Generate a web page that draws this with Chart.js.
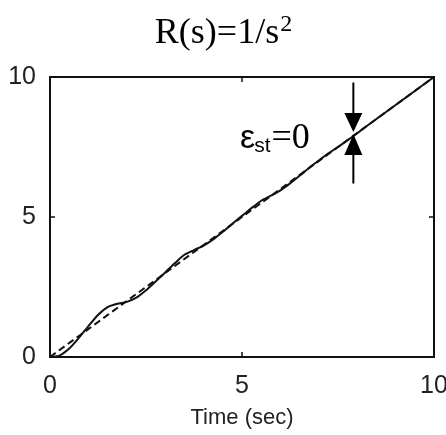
<!DOCTYPE html>
<html>
<head>
<meta charset="utf-8">
<script src="https://cdn.jsdelivr.net/npm/chart.js@4/dist/chart.umd.min.js"></script>
<style>
  html, body { margin: 0; padding: 0; background: #fff; }
  #wrap { width: 446px; height: 435px; }
</style>
</head>
<body>
<div id="wrap"><canvas id="chart"></canvas></div>
<script>
// ramp input r(t) = t (dashed)
const rampTime = [0, 10];
const rampValue = [0, 10];

// system output c(t) (solid)
const outTime = [0, 0.25, 0.5, 0.75, 1, 1.25, 1.5, 1.75, 2, 2.25, 2.5, 2.75, 3, 3.25, 3.5, 3.75,
  4, 4.25, 4.5, 4.75, 5, 5.25, 5.5, 5.75, 6, 6.25, 6.5, 6.75, 7, 7.25, 7.5, 7.75,
  8, 8.25, 8.5, 8.75, 9, 9.25, 9.5, 9.75, 10];
const outValue = [0, 0.05, 0.3, 0.68, 1.1, 1.5, 1.78, 1.9, 1.97, 2.12, 2.38, 2.7, 3.02, 3.35, 3.65, 3.82,
  3.98, 4.2, 4.47, 4.76, 5.04, 5.32, 5.58, 5.76, 5.95, 6.2, 6.47, 6.76, 7.02, 7.27, 7.5, 7.74,
  7.99, 8.25, 8.5, 8.75, 9.0, 9.25, 9.5, 9.75, 10];

const axisTicks = [0, 5, 10];

// steady-state error marker (data units)
const markerT = 7.9;
const markerTop = 9.8;
const markerMid = 8.0;
const markerBottom = 6.2;
const labelT = 4.95;
const labelY = 7.45;

const toXY = (xs, ys) => xs.map((x, i) => ({ x, y: ys[i] }));
const serif = '"Liberation Serif", "Times New Roman", serif';
const sans = '"Liberation Sans", Arial, sans-serif';

// title, box around the axes, inward ticks and the e_st arrows
const boxPlugin = {
  id: "box",
  afterDatasetsDraw(chart) {
    const { ctx, chartArea: a, scales: { x, y } } = chart;
    ctx.save();

    // title R(s)=1/s^2
    ctx.fillStyle = "#000";
    ctx.textBaseline = "alphabetic";
    ctx.textAlign = "left";
    ctx.font = "36px " + serif;
    const main = "R(s)=1/s";
    const wMain = ctx.measureText(main).width;
    ctx.font = "24px " + serif;
    const wSup = ctx.measureText("2").width;
    const tx0 = chart.width / 2 - (wMain + wSup) / 2;
    ctx.font = "36px " + serif;
    ctx.fillText(main, tx0, 43);
    ctx.font = "24px " + serif;
    ctx.fillText("2", tx0 + wMain + 1, 31);

    ctx.strokeStyle = "#111";
    ctx.lineWidth = 2;
    ctx.strokeRect(a.left, a.top, a.right - a.left, a.bottom - a.top);

    ctx.lineWidth = 1.5;
    ctx.beginPath();
    axisTicks.forEach((v) => {
      const px = x.getPixelForValue(v);
      ctx.moveTo(px, a.bottom); ctx.lineTo(px, a.bottom - 5);
      ctx.moveTo(px, a.top); ctx.lineTo(px, a.top + 5);
      const py = y.getPixelForValue(v);
      ctx.moveTo(a.left, py); ctx.lineTo(a.left + 5, py);
      ctx.moveTo(a.right, py); ctx.lineTo(a.right - 5, py);
    });
    ctx.stroke();

    // arrows
    const ax = x.getPixelForValue(markerT);
    const yTop = y.getPixelForValue(markerTop);
    const yMid = y.getPixelForValue(markerMid);
    const yBot = y.getPixelForValue(markerBottom);
    ctx.strokeStyle = "#000";
    ctx.lineWidth = 2;
    ctx.beginPath();
    ctx.moveTo(ax, yTop); ctx.lineTo(ax, yMid - 18);
    ctx.moveTo(ax, yMid + 18); ctx.lineTo(ax, yBot);
    ctx.stroke();
    ctx.beginPath();
    ctx.moveTo(ax - 9, yMid - 20); ctx.lineTo(ax + 9, yMid - 20); ctx.lineTo(ax, yMid - 1);
    ctx.closePath();
    ctx.moveTo(ax - 9, yMid + 22); ctx.lineTo(ax + 9, yMid + 22); ctx.lineTo(ax, yMid + 1);
    ctx.closePath();
    ctx.fill();

    // label e_st=0
    const lx = x.getPixelForValue(labelT);
    const ly = y.getPixelForValue(labelY);
    ctx.font = "34px " + sans;
    ctx.fillText("ε", lx, ly);
    let w = ctx.measureText("ε").width;
    ctx.font = "21px " + sans;
    ctx.fillText("st", lx + w - 1, ly + 4);
    w += ctx.measureText("st").width;
    ctx.font = "36px " + serif;
    ctx.fillText("=0", lx + w, ly);
    ctx.restore();
  }
};

const tickFont = { family: sans, size: 25 };

new Chart(document.getElementById("chart"), {
  type: "scatter",
  data: {
    datasets: [
      {
        label: "c(t)",
        data: toXY(outTime, outValue),
        showLine: true,
        borderColor: "#111",
        borderWidth: 2,
        pointRadius: 0,
        tension: 0.25
      },
      {
        label: "r(t)",
        data: toXY(rampTime, rampValue),
        showLine: true,
        borderColor: "#111",
        borderWidth: 2,
        borderDash: [7, 4],
        pointRadius: 0
      }
    ]
  },
  options: {
    responsive: true,
    maintainAspectRatio: false,
    animation: false,
    layout: { padding: { left: 0, right: 0, top: 77, bottom: 0 } },
    plugins: {
      legend: { display: false },
      tooltip: { enabled: false },
      title: { display: false }
    },
    scales: {
      x: {
        type: "linear",
        min: 0,
        max: 10,
        grid: { display: false },
        border: { display: false },
        afterBuildTicks: (s) => { s.ticks = axisTicks.map((v) => ({ value: v })); },
        afterFit: (s) => { s.height = 78; s.paddingLeft = 0; s.paddingRight = 12; },
        ticks: { color: "#222", font: tickFont, padding: 6, maxRotation: 0 },
        title: {
          display: true,
          text: "Time (sec)",
          color: "#222",
          font: { family: sans, size: 22 },
          padding: { top: 7 }
        }
      },
      y: {
        type: "linear",
        min: 0,
        max: 10,
        grid: { display: false },
        border: { display: false },
        afterBuildTicks: (s) => { s.ticks = axisTicks.map((v) => ({ value: v })); },
        afterFit: (s) => { s.width = 50; s.paddingTop = 0; s.paddingBottom = 0; },
        ticks: { color: "#222", font: tickFont, padding: 6 }
      }
    }
  },
  plugins: [boxPlugin]
});
</script>
</body>
</html>
